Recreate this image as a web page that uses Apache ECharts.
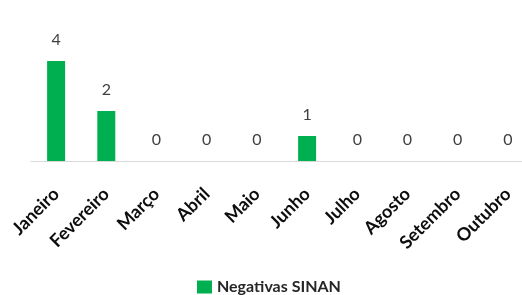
<!DOCTYPE html>
<html>
<head>
<meta charset="utf-8">
<script src="https://cdn.jsdelivr.net/npm/echarts@6/dist/echarts.min.js"></script>
<style>
  html, body { margin: 0; padding: 0; background: #fff; }
  #chart { width: 522px; height: 295px; }
</style>
</head>
<body>
<div id="chart"></div>
<script>
// meses e notificações negativas
const months = ["Janeiro", "Fevereiro", "Março", "Abril", "Maio", "Junho", "Julho", "Agosto", "Setembro", "Outubro"];
const negativas = [4, 2, 0, 0, 0, 1, 0, 0, 0, 0];

const chart = echarts.init(document.getElementById("chart"));

chart.setOption({
  animation: false,
  textStyle: { fontFamily: "Lato" },
  // o eixo continua além da borda direita, como no original
  grid: {
    left: 31, width: 502, top: 36, bottom: 134,
    containLabel: false,
    outerBoundsMode: "none"
  },
  legend: {
    bottom: -5,
    left: 192,
    itemWidth: 15,
    itemHeight: 13,
    itemGap: 4,
    icon: "rect",
    textStyle: { fontSize: 16, fontWeight: "bold", color: "#262626", fontFamily: "Lato" },
    data: ["Negativas SINAN"]
  },
  xAxis: {
    type: "category",
    data: months,
    axisLine: { lineStyle: { color: "#d9d9d9", width: 1 } },
    axisTick: { show: false },
    axisLabel: {
      rotate: 45,
      interval: 0,
      margin: 30,
      fontSize: 18,
      fontWeight: "bold",
      color: "#0d0d0d",
      fontFamily: "Lato"
    }
  },
  yAxis: {
    type: "value",
    min: 0,
    max: 5,
    show: false,
    splitLine: { show: false }
  },
  series: [{
    name: "Negativas SINAN",
    type: "bar",
    data: negativas,
    barWidth: 18,
    itemStyle: { color: "#00b050" },
    label: {
      show: true,
      position: "top",
      distance: 13,
      fontSize: 16,
      color: "#404040",
      fontFamily: "Lato"
    }
  }]
});
</script>
</body>
</html>
